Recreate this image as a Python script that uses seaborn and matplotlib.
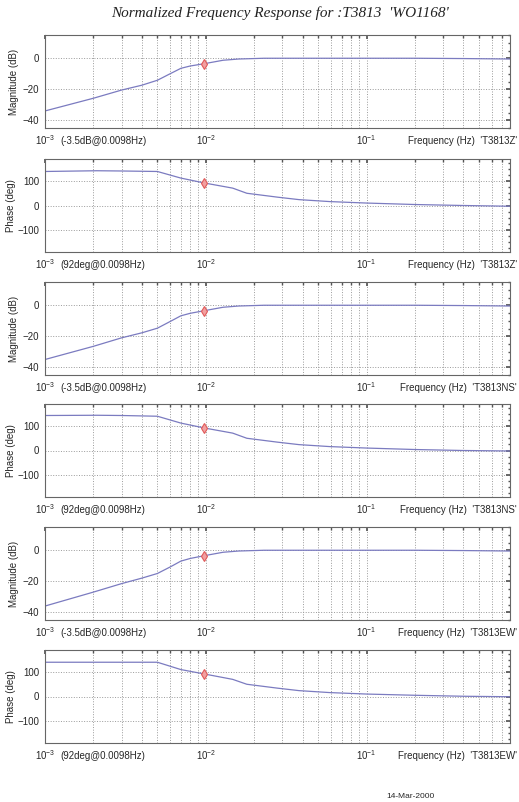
import numpy as np
import pandas as pd
import matplotlib
matplotlib.use("Agg")
import matplotlib.pyplot as plt
import seaborn as sns
from matplotlib.ticker import LogLocator, FixedLocator, NullFormatter, MultipleLocator

# 频率点 (Hz)
freq = [0.001, 0.002, 0.003, 0.004, 0.005, 0.006, 0.007, 0.008, 0.0098,
        0.0128, 0.016, 0.023, 0.04, 0.1, 0.2, 0.4, 0.78]

# 三个分量的幅度 (dB)
mag_z = [-34, -25.8, -20.5, -17.4, -14.2, -10, -6.5, -5, -3.5,
         -1.3, -0.5, 0, 0, 0, 0, -0.2, -0.5]
mag_ns = [-35, -26.5, -21, -17.8, -14.8, -10.5, -6.8, -5.2, -3.5,
          -1.3, -0.5, 0, 0, 0, 0, -0.2, -0.5]
mag_ew = [-36, -27, -21.5, -18, -15, -10.8, -7, -5.3, -3.5,
          -1.3, -0.5, 0, 0, 0, 0, -0.2, -0.5]

# 相位 (deg)
freq_ph = [0.001, 0.0021, 0.003, 0.005, 0.007, 0.0098, 0.0147, 0.018,
           0.028, 0.038, 0.059, 0.1, 0.2, 0.4, 0.78]
ph_z = [139, 142, 141, 139, 112, 92, 71, 50, 34, 24, 16, 10, 4, 0, -3]
ph_ns = [143, 144, 143, 140, 112, 92, 71, 50, 34, 24, 16, 10, 4, 0, -2]
ph_ew = [140, 140, 140, 140, 110, 92, 70, 50, 34, 24, 16, 10, 5, 1, -1]

marker_f = 0.0098
marker_mag = -3.5
marker_ph = 92

stations = ["'T3813Z'", "'T3813NS'", "'T3813EW'"]
title_str = "Normalized Frequency Response for :T3813  'WO1168'"
date_str = "14-Mar-2000"

line_col = "#7b7bc0"
grid_col = "#9a9a9a"

sns.set_theme(style="white")
plt.rcParams['font.family'] = ['Liberation Sans', 'DejaVu Sans']
plt.rcParams['mathtext.fontset'] = 'custom'
plt.rcParams['mathtext.rm'] = 'Liberation Sans'
plt.rcParams['mathtext.it'] = 'Liberation Sans'

W, H = 519, 802
fig = plt.figure(figsize=(W / 100, H / 100), dpi=100)
fig.patch.set_facecolor("white")

tops = [35, 159, 282, 404, 527, 650]
left_px, width_px, height_px = 45, 465, 93


def style_axis(ax, is_mag):
    ax.set_xscale('log')
    ax.set_xlim(0.001, 0.78)
    if is_mag:
        ax.set_ylim(-45, 15)
        ax.yaxis.set_major_locator(FixedLocator([-40, -20, 0]))
        ax.yaxis.set_minor_locator(MultipleLocator(5))
        ax.set_ylabel("Magnitude (dB)", fontsize=7, labelpad=3)
    else:
        ax.set_ylim(-190, 190)
        ax.yaxis.set_major_locator(FixedLocator([-100, 0, 100]))
        ax.yaxis.set_minor_locator(MultipleLocator(25))
        ax.set_ylabel("Phase (deg)", fontsize=7, labelpad=1)
    ax.xaxis.set_major_locator(FixedLocator([0.001, 0.01, 0.1]))
    ax.xaxis.set_minor_locator(LogLocator(base=10, subs=np.arange(2, 10)))
    ax.xaxis.set_minor_formatter(NullFormatter())
    ax.set_xticklabels([r'$10^{-3}$', r'$10^{-2}$', r'$10^{-1}$'])
    ax.tick_params(axis='both', which='both', direction='in', top=True,
                   right=True, labelsize=7, color='#555555')
    ax.tick_params(which='major', length=3, pad=4)
    ax.tick_params(which='minor', length=1.8)
    ax.grid(True, which='major', linestyle=':', color=grid_col, linewidth=0.7)
    ax.grid(True, which='minor', axis='x', linestyle=':', color=grid_col,
            linewidth=0.7)
    for sp in ax.spines.values():
        sp.set_color('#666666')
        sp.set_linewidth(0.8)
    ax.set_xlabel("")


mags = [mag_z, mag_ns, mag_ew]
phs = [ph_z, ph_ns, ph_ew]

for i in range(6):
    top = tops[i]
    ax = fig.add_axes([left_px / W, 1 - (top + height_px) / H,
                       width_px / W, height_px / H])
    comp = i // 2
    is_mag = (i % 2 == 0)
    if is_mag:
        df = pd.DataFrame({'f': freq, 'v': mags[comp]})
    else:
        df = pd.DataFrame({'f': freq_ph, 'v': phs[comp]})
    ax.set_xscale('log')
    sns.lineplot(data=df, x='f', y='v', ax=ax, color=line_col, linewidth=0.9)
    ax.plot([marker_f], [marker_mag if is_mag else marker_ph], marker='d',
            ms=5, color='#e05a5a', mfc='#f2a0a0', mew=0.8)
    style_axis(ax, is_mag)

    # 刻度标签同一行的注释
    note = "(-3.5dB@0.0098Hz)" if is_mag else "(92deg@0.0098Hz)"
    ax.annotate(note, xy=(0, 0), xycoords='axes fraction', xytext=(11, -9.5),
                textcoords='offset points', fontsize=7, ha='left', va='center')
    ax.annotate("Frequency (Hz)  " + stations[comp], xy=(1, 0),
                xycoords='axes fraction', xytext=(5, -9.5),
                textcoords='offset points', fontsize=7, ha='right', va='center')

fig.text(280 / W, 1 - 13 / H, title_str, ha='center', va='center',
         fontsize=11, family=['Liberation Serif'], style='italic', color='#222222')
fig.text(410 / W, 1 - 796 / H, date_str, ha='center', va='center', fontsize=6)

plt.savefig("out.png", dpi=100)
